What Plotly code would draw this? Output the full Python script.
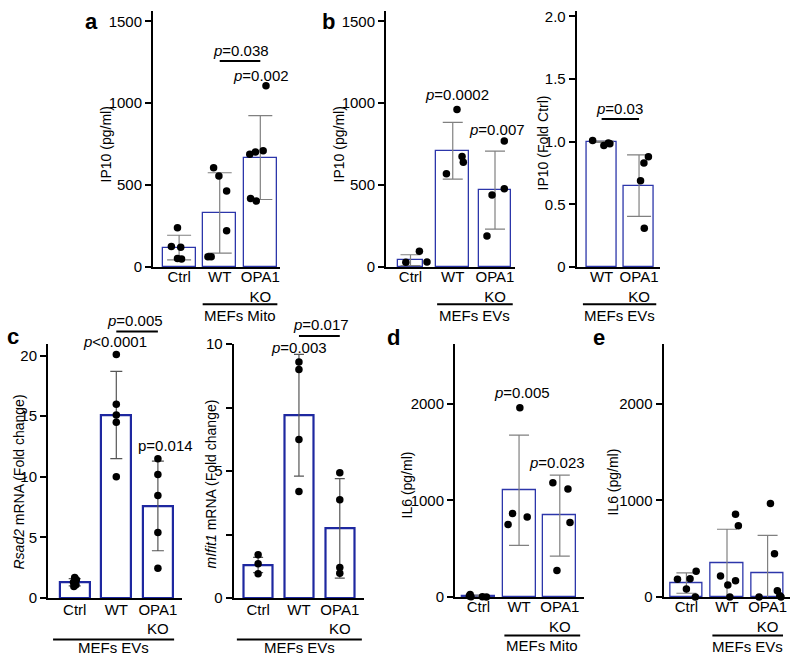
import plotly.graph_objects as go

W, H = 791, 662

# ---- data ----
# a: IP10, MEFs Mito
a_cats = ["Ctrl", "WT", "OPA1<br>KO"]
a_mean = [120, 331, 669]
a_sd = [75, 245, 256]
a_pts = [[240, 126, 122, 53, 50],
         [606, 556, 465, 222, 63, 63],
         [1106, 710, 702, 689, 419, 404]]

# b (left): IP10, MEFs EVs
b1_cats = ["Ctrl", "WT", "OPA1<br>KO"]
b1_mean = [43, 710, 470]
b1_sd = [33, 173, 238]
b1_pts = [[98, 30, 32],
          [962, 675, 640, 570],
          [770, 478, 440, 190]]

# b (right): IP10 fold ctrl, MEFs EVs
b2_cats = ["WT", "OPA1<br>KO"]
b2_mean = [1.0, 0.65]
b2_sd = [0.005, 0.245]
b2_pts = [[1.01, 0.97, 0.99, 0.985],
          [0.88, 0.83, 0.69, 0.31]]

# c (left): Rsad2 mRNA
c1_cats = ["Ctrl", "WT", "OPA1<br>KO"]
c1_mean = [1.3, 15.1, 7.6]
c1_sd = [0.3, 3.6, 3.7]
c1_pts = [[1.7, 1.5, 1.3, 1.1, 0.95],
          [20.1, 16.0, 15.1, 14.5, 10.0],
          [11.5, 10.2, 8.45, 5.4, 2.45]]

# c (right): mIfit1 mRNA
c2_cats = ["Ctrl", "WT", "OPA1<br>KO"]
c2_mean = [1.3, 7.2, 2.74]
c2_sd = [0.3, 2.4, 1.96]
c2_pts = [[1.7, 1.35, 0.95],
          [9.3, 9.0, 6.24, 4.2],
          [4.93, 3.87, 1.2, 0.97]]

# d: IL6, MEFs Mito
d_cats = ["Ctrl", "WT", "OPA1<br>KO"]
d_mean = [10, 1106, 843]
d_sd = [10, 570, 419]
d_pts = [[28, 12, 4, 3, 2],
         [1960, 864, 750, 830],
         [1183, 1119, 773, 276]]

# e: IL6, MEFs EVs
e_cats = ["Ctrl", "WT", "OPA1<br>KO"]
e_mean = [145, 349, 247]
e_sd = [105, 353, 391]
e_pts = [[268, 184, 191, 84, 0],
         [858, 737, 218, 168, 124, 0],
         [968, 449, 67, 13, 0, 0]]

# horizontal scatter of the dots inside each bar (category units)
a_jit = [[-0.04, -0.19, 0.04, -0.04, 0.06],
         [-0.15, -0.02, 0.17, 0.17, -0.29, -0.21],
         [0.14, 0.07, -0.12, -0.26, -0.24, -0.1]]
b1_jit = [[0.21, -0.11, 0.39], [0.1, 0.22, 0.25, -0.15], [0.22, 0.22, -0.07, -0.19]]
b2_jit = [[-0.24, 0.06, 0.18, 0.22], [0.25, 0.13, 0.04, 0.14]]
c1_jit = [[0, 0.04, -0.03, 0.03, -0.02], [0, 0, 0, 0, 0], [0, 0, 0, 0, 0]]
c2_jit = [[0, 0, 0], [0, 0, 0, 0], [0, 0, 0, 0]]
d_jit = [[-0.2, -0.22, -0.18, 0.1, 0.2], [0.02, -0.16, -0.27, 0.2], [-0.17, 0.2, 0.25, -0.07]]
e_jit = [[0.24, -0.22, 0.09, 0, 0.22], [0.21, 0.28, -0.16, 0.21, 0.02, 0.07],
         [0.07, 0.17, 0.24, 0.3, -0.21, 0.33]]

FONT = "Liberation Sans, Arial, sans-serif"
BLUE = "rgb(44,54,170)"
BLUE_C = "rgb(30,40,160)"

fig = go.Figure()


def px_x(p):
    return p / W


def px_y(p):
    return 1 - p / H


def ax(n):
    return ("x", "y") if n == 1 else (f"x{n}", f"y{n}")


def panel(n, cats, mean, sd, pts, jit, xdom, ydom, xr, yr, ytv, ytt,
          widths, lw=1.3, bcol=BLUE, ecol="#808080", cap=11, lab_off=-5):
    xa, ya = ax(n)
    idx = list(range(len(cats)))
    fig.add_trace(go.Bar(
        x=idx, y=mean, width=widths, xaxis=xa, yaxis=ya,
        marker=dict(color="white", line=dict(color=bcol, width=lw)),
        error_y=dict(type="data", array=sd, visible=True, color=ecol,
                     thickness=1.2, width=cap)))
    xs, ys = [], []
    for i, (vals, offs) in enumerate(zip(pts, jit)):
        for v, o in zip(vals, offs):
            xs.append(i + o)
            ys.append(v)
    fig.add_trace(go.Scatter(x=xs, y=ys, mode="markers", xaxis=xa, yaxis=ya,
                             cliponaxis=False,
                             marker=dict(color="black", size=7.5)))
    axfont = dict(family=FONT, size=15, color="black")
    fig.layout["xaxis" if n == 1 else f"xaxis{n}"] = dict(
        domain=[px_x(xdom[0]), px_x(xdom[1])], range=xr, anchor=ya,
        tickvals=idx, ticktext=cats, ticks="", showline=True,
        linecolor="black", linewidth=2, showgrid=False, zeroline=False,
        tickfont=axfont, ticklabelstandoff=lab_off)
    fig.layout["yaxis" if n == 1 else f"yaxis{n}"] = dict(
        domain=[px_y(ydom[1]), px_y(ydom[0])], range=yr, anchor=xa,
        tickvals=ytv, ticktext=ytt, ticks="outside", ticklen=6,
        tickwidth=1.5, tickcolor="black", showline=True, linecolor="black",
        linewidth=2, showgrid=False, zeroline=False, tickfont=axfont)


panel(1, a_cats, a_mean, a_sd, a_pts, a_jit, (153, 280), (2, 265),
      [-0.643, 2.485], [0, 1563], [0, 500, 1000, 1500],
      ["0", "500", "1000", "1500"], [0.81] * 3, cap=12)
panel(2, b1_cats, b1_mean, b1_sd, b1_pts, b1_jit, (386, 514.6), (2, 265),
      [-0.58, 2.464], [0, 1563], [0, 500, 1000, 1500],
      ["0", "500", "1000", "1500"], [0.61, 0.78, 0.765], cap=10)
panel(3, b2_cats, b2_mean, b2_sd, b2_pts, b2_jit, (576.7, 660), (2, 265),
      [-0.666, 1.56], [0, 2.043], [0, 0.5, 1, 1.5, 2],
      ["0", "0.5", "1.0", "1.5", "2.0"], [0.8] * 2, cap=12)
panel(4, c1_cats, c1_mean, c1_sd, c1_pts, c1_jit, (48, 181.6), (344, 604.5),
      [-0.642, 2.57], [0, 20.95], [0, 5, 10, 15, 20],
      ["0", "5", "10", "15", "20"], [0.73] * 3, lw=2.2, bcol=BLUE_C,
      ecol="#555555", cap=6, lab_off=-3)
panel(5, c2_cats, c2_mean, c2_sd, c2_pts, c2_jit, (233.6, 364.3), (344, 604.5),
      [-0.6, 2.6], [0, 10], [0, 2.5, 5, 7.5, 10],
      ["0", "", "5", "", "10"], [0.705] * 3, lw=2.2, bcol=BLUE_C,
      ecol="#555555", cap=5, lab_off=-3)
panel(6, d_cats, d_mean, d_sd, d_pts, d_jit, (455, 584), (344, 603.6),
      [-0.572, 2.594], [0, 2617], [0, 1000, 2000],
      ["0", "1000", "2000"], [0.81] * 3, cap=10)
panel(7, e_cats, e_mean, e_sd, e_pts, e_jit, (663.5, 789.6), (344, 603.6),
      [-0.564, 2.542], [0, 2617], [0, 1000, 2000],
      ["0", "1000", "2000"], [0.79] * 3, cap=10)

ann = []
shapes = []
tfont = dict(family=FONT, size=15, color="black")


def ptext(n, x, y, txt, ypx=None):
    # ypx: place above the axis range, in page pixels
    xa, ya = ax(n)
    yref, yy = (ya, y) if ypx is None else ("paper", px_y(ypx))
    ann.append(dict(x=x, y=yy, xref=xa, yref=yref, text=txt, showarrow=False,
                    font=tfont, xanchor="center", yanchor="middle"))


def pline(n, x0, x1, y, ypx=None):
    xa, ya = ax(n)
    yref, yy = (ya, y) if ypx is None else ("paper", px_y(ypx))
    shapes.append(dict(type="line", xref=xa, yref=yref, x0=x0, x1=x1,
                       y0=yy, y1=yy, line=dict(color="black", width=2)))


def group(n, x0, x1, ypx, label, tpx):
    xa, _ = ax(n)
    shapes.append(dict(type="line", xref=xa, yref="paper", x0=x0, x1=x1,
                       y0=px_y(ypx), y1=px_y(ypx),
                       line=dict(color="black", width=2)))
    ann.append(dict(x=(x0 + x1) / 2, y=px_y(tpx), xref=xa, yref="paper",
                    text=label, showarrow=False, font=tfont,
                    xanchor="center", yanchor="middle"))


def ytitle(xpx, ypx, txt):
    ann.append(dict(x=px_x(xpx), y=px_y(ypx), xref="paper", yref="paper",
                    text=txt, textangle=-90, showarrow=False,
                    font=dict(family=FONT, size=14, color="black"),
                    xanchor="center", yanchor="middle"))


def letter(xpx, ypx, txt):
    ann.append(dict(x=px_x(xpx), y=px_y(ypx), xref="paper", yref="paper",
                    text=f"<b>{txt}</b>", showarrow=False,
                    font=dict(family=FONT, size=22, color="black"),
                    xanchor="center", yanchor="middle"))


# p-values
ptext(1, 1.52, 1321, "<i>p</i>=0.038")
pline(1, 1.0, 2.0, 1257)
ptext(1, 2.02, 1171, "<i>p</i>=0.002")
ptext(2, 1.09, 1053, "<i>p</i>=0.0002")
ptext(2, 2.05, 840, "<i>p</i>=0.007")
ptext(3, 0.48, 1.267, "<i>p</i>=0.03")
pline(3, 0.0, 1.0, 1.181)
ptext(4, 0.97, None, "<i>p</i>&lt;0.0001", ypx=341)
ptext(4, 1.45, None, "<i>p</i>=0.005", ypx=319.5)
pline(4, 1.0, 2.0, None, ypx=331)
ptext(4, 2.18, 12.59, "p=0.014")
ptext(5, 0.99, 9.88, "<i>p</i>=0.003")
ptext(5, 1.55, None, "<i>p</i>=0.017", ypx=324)
pline(5, 1.0, 2.0, None, ypx=335.6)
ptext(6, 1.08, 2115, "<i>p</i>=0.005")
ptext(6, 1.94, 1395, "<i>p</i>=0.023")

# group labels under the axes
group(1, 0.58, 2.42, 303, "MEFs Mito", 314.5)
group(2, 0.63, 2.42, 303, "MEFs EVs", 315)
group(3, -0.5, 1.46, 303, "MEFs EVs", 315)
group(4, -0.52, 2.39, 647, "MEFs EVs", 655)
group(5, -0.52, 2.54, 647, "MEFs EVs", 655)
group(6, 0.64, 2.5, 643, "MEFs Mito", 653.5)
group(7, 0.64, 2.38, 643, "MEFs EVs", 654)

ytitle(106, 139, "IP10 (pg/ml)")
ytitle(339, 139, "IP10 (pg/ml)")
ytitle(543, 138, "IP10 (Fold Ctrl)")
ytitle(19, 486, "<i>Rsad2</i> mRNA (Fold change)")
ytitle(211, 488, "<i>mIfit1</i> mRNA (Fold change)")
ytitle(407, 488, "IL6 (pg/ml)")
ytitle(613, 486, "IL6 (pg/ml)")

letter(91, 13, "a")
letter(328, 13, "b")
letter(13, 336, "c")
letter(393, 337, "d")
letter(599, 337, "e")

fig.update_layout(width=W, height=H, margin=dict(l=0, r=0, t=0, b=0),
                  autosize=False, showlegend=False, plot_bgcolor="white",
                  paper_bgcolor="white", annotations=ann, shapes=shapes,
                  bargap=0)

fig.write_html("out.html", config={"displayModeBar": False},
               post_script="document.body.style.margin='0';"
                           "document.body.style.overflow='hidden';")
